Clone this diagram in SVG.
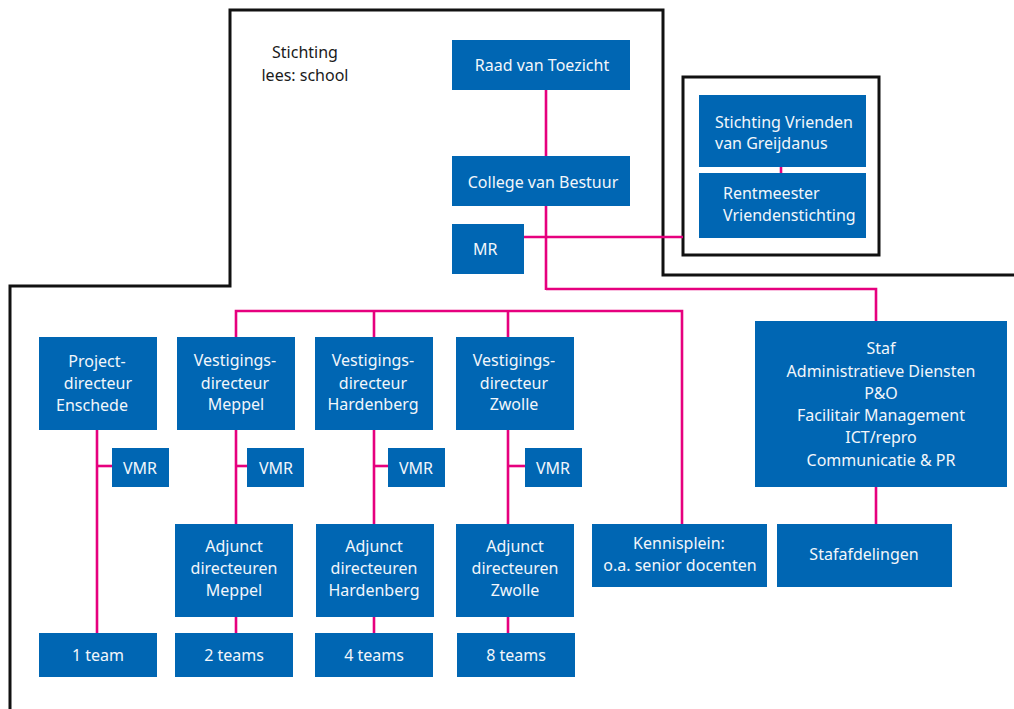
<svg xmlns="http://www.w3.org/2000/svg" width="1014" height="709" viewBox="0 0 1014 709">
<style>
.b{fill:#0066b3}
.t{font-family:"Noto Sans","Liberation Sans",sans-serif;font-size:16px;fill:#f2f6fb;text-anchor:middle}
.l{text-anchor:start}
.k{font-family:"Noto Sans","Liberation Sans",sans-serif;font-size:16px;fill:#1a1a1a;text-anchor:middle}
.c{fill:none;stroke:#e6007e;stroke-width:2.6}
.o{fill:none;stroke:#111;stroke-width:3}
</style>
<rect width="1014" height="709" fill="#fff"/>
<g id="outline">
<polyline class="o" points="10,709 10,286 230,286 230,10 663,10 663,275 1014,275"/>
<rect class="o" x="683" y="77" width="196" height="178"/>
<text class="k" x="305" y="58">Stichting</text>
<text class="k" x="305" y="81">lees: school</text>
</g>
<g id="connectors">
<line class="c" x1="546" y1="90" x2="546" y2="156"/>
<line class="c" x1="546" y1="206" x2="546" y2="290"/>
<line class="c" x1="524" y1="237" x2="683" y2="237"/>
<line class="c" x1="781" y1="167" x2="781" y2="173"/>
<polyline class="c" points="546,289 876,289 876,321"/>
<line class="c" x1="876" y1="487" x2="876" y2="524"/>
<polyline class="c" points="236,337 236,311 682,311 682,524"/>
<line class="c" x1="374" y1="311" x2="374" y2="337"/>
<line class="c" x1="508" y1="311" x2="508" y2="337"/>
<line class="c" x1="97" y1="430" x2="97" y2="633"/>
<line class="c" x1="236" y1="430" x2="236" y2="524"/>
<line class="c" x1="374" y1="430" x2="374" y2="524"/>
<line class="c" x1="508" y1="430" x2="508" y2="524"/>
<line class="c" x1="236" y1="617" x2="236" y2="633"/>
<line class="c" x1="374" y1="617" x2="374" y2="633"/>
<line class="c" x1="508" y1="617" x2="508" y2="633"/>
<line class="c" x1="97" y1="466" x2="112" y2="466"/>
<line class="c" x1="236" y1="466" x2="247" y2="466"/>
<line class="c" x1="374" y1="466" x2="388" y2="466"/>
<line class="c" x1="508" y1="466" x2="525" y2="466"/>
</g>
<g id="raad"><rect class="b" x="452" y="40" width="178" height="50"/><text class="t" x="542" y="71">Raad van Toezicht</text></g>
<g id="college"><rect class="b" x="452" y="156" width="178" height="50"/><text class="t" x="543" y="188">College van Bestuur</text></g>
<g id="mr"><rect class="b" x="452" y="224" width="72" height="50"/><text class="t l" x="473" y="255">MR</text></g>
<g id="vrienden"><rect class="b" x="699" y="95" width="167" height="72"/><text class="t l" x="715" y="128">Stichting Vrienden</text><text class="t l" x="715" y="149">van Greijdanus</text></g>
<g id="rentmeester"><rect class="b" x="699" y="173" width="167" height="65"/><text class="t l" x="723" y="199">Rentmeester</text><text class="t l" x="723" y="221">Vriendenstichting</text></g>
<g id="project"><rect class="b" x="39" y="337" width="118" height="93"/><text class="t" x="97" y="367">Project-</text><text class="t" x="98" y="389">directeur</text><text class="t" x="92" y="411">Enschede</text></g>
<g id="vest-meppel"><rect class="b" x="177" y="337" width="118" height="93"/><text class="t" x="235" y="366">Vestigings-</text><text class="t" x="235" y="389">directeur</text><text class="t" x="236" y="410">Meppel</text></g>
<g id="vest-hardenberg"><rect class="b" x="315" y="337" width="118" height="93"/><text class="t" x="373" y="366">Vestigings-</text><text class="t" x="373" y="389">directeur</text><text class="t" x="373" y="410">Hardenberg</text></g>
<g id="vest-zwolle"><rect class="b" x="456" y="337" width="118" height="93"/><text class="t" x="514" y="366">Vestigings-</text><text class="t" x="514" y="389">directeur</text><text class="t" x="514" y="410">Zwolle</text></g>
<g id="vmr-project"><rect class="b" x="112" y="448" width="57" height="39"/><text class="t" x="140" y="474">VMR</text></g>
<g id="vmr-meppel"><rect class="b" x="247" y="448" width="57" height="39"/><text class="t" x="276" y="474">VMR</text></g>
<g id="vmr-hardenberg"><rect class="b" x="388" y="448" width="57" height="39"/><text class="t" x="416" y="474">VMR</text></g>
<g id="vmr-zwolle"><rect class="b" x="525" y="448" width="57" height="39"/><text class="t" x="553" y="474">VMR</text></g>
<g id="adj-meppel"><rect class="b" x="175" y="524" width="118" height="93"/><text class="t" x="234" y="552">Adjunct</text><text class="t" x="234" y="574">directeuren</text><text class="t" x="234" y="596">Meppel</text></g>
<g id="adj-hardenberg"><rect class="b" x="316" y="524" width="118" height="93"/><text class="t" x="374" y="552">Adjunct</text><text class="t" x="374" y="574">directeuren</text><text class="t" x="374" y="596">Hardenberg</text></g>
<g id="adj-zwolle"><rect class="b" x="456" y="524" width="118" height="93"/><text class="t" x="515" y="552">Adjunct</text><text class="t" x="515" y="574">directeuren</text><text class="t" x="515" y="596">Zwolle</text></g>
<g id="team1"><rect class="b" x="39" y="633" width="118" height="44"/><text class="t" x="98" y="661">1 team</text></g>
<g id="team2"><rect class="b" x="175" y="633" width="118" height="44"/><text class="t" x="234" y="661">2 teams</text></g>
<g id="team4"><rect class="b" x="315" y="633" width="118" height="44"/><text class="t" x="374" y="661">4 teams</text></g>
<g id="team8"><rect class="b" x="457" y="633" width="118" height="44"/><text class="t" x="516" y="661">8 teams</text></g>
<g id="kennisplein"><rect class="b" x="592" y="524" width="175" height="63"/><text class="t" x="679" y="549">Kennisplein:</text><text class="t" x="680" y="571">o.a. senior docenten</text></g>
<g id="staf"><rect class="b" x="755" y="321" width="252" height="166"/>
<text class="t" x="881" y="354">Staf</text>
<text class="t" x="881" y="377">Administratieve Diensten</text>
<text class="t" x="881" y="399">P&amp;O</text>
<text class="t" x="881" y="421">Facilitair Management</text>
<text class="t" x="881" y="443">ICT/repro</text>
<text class="t" x="881" y="466">Communicatie &amp; PR</text>
</g>
<g id="stafafdelingen"><rect class="b" x="777" y="524" width="175" height="63"/><text class="t" x="864" y="560">Stafafdelingen</text></g>
</svg>
